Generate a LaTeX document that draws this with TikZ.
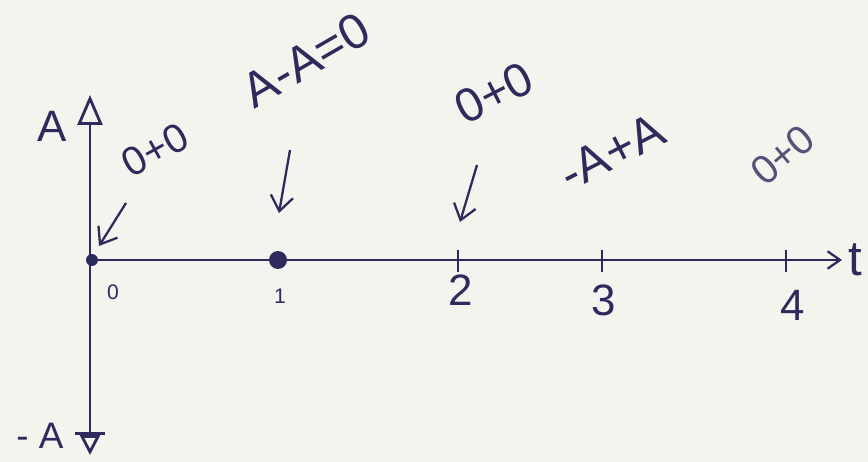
\documentclass[tikz,border=0pt]{standalone}
\usepackage{fontspec}
\setmainfont{Liberation Sans}
\usetikzlibrary{arrows.meta,positioning}
\definecolor{ink}{HTML}{2D2A5C}
\definecolor{paper}{HTML}{F4F4EF}
\tikzset{
  axis/.style={ink,line width=1.6pt},
  tickmark/.style={ink,line width=1.4pt},
  dot/.style={circle,fill=ink,inner sep=0pt,minimum size=2.4mm},
  bigdot/.style={circle,fill=ink,inner sep=0pt,minimum size=3.6mm},
  pointer/.style={-{Straight Barb[length=3mm,width=4.5mm]},ink,line width=1.3pt},
  note/.style={ink,font=\fontsize{26}{28}\selectfont,inner sep=0pt},
  ticklabel/.style={ink,font=\fontsize{25}{27}\selectfont,inner sep=1pt},
  smalllabel/.style={ink,font=\fontsize{12}{14}\selectfont,inner sep=1pt},
}
\begin{document}
\begin{tikzpicture}[x=0.02cm,y=-0.02cm]
  \fill[paper] (0,0) rectangle (868,462);
  \useasboundingbox (0,0) rectangle (868,462);
  % axes
  \coordinate (top) at (90,95);
  \coordinate (bot) at (90,455);
  \coordinate (tend) at (842,260);
  \draw[axis,-{Triangle[open,length=6mm,width=5mm]}] (90,260) -- (top);
  \draw[axis,-{Bar[width=6mm]Triangle[open,length=4mm,width=4mm,sep=0pt]}] (90,260) -- (bot);
  \draw[axis,line width=1.3pt,-{Straight Barb[length=2.5mm,width=3.5mm]}] (90,260) -- (tend);
  \node[ink,font=\fontsize{28}{30}\selectfont,anchor=west] (t) at (tend) {t};
  \node[ticklabel] (Aup) at (52,126) {A};
  \node[ticklabel,font=\fontsize{21}{23}\selectfont] (Adown) at (40,436) {- A};
  % points on the t axis
  \node[dot] (p0) at (92,260) {};
  \node[bigdot] (p1) at (278,260) {};
  \foreach \x/\n in {458/2,602/3,786/4}{
    \draw[tickmark] (\x,250) -- (\x,272);
    \coordinate (p\n) at (\x,260);
  }
  \node[smalllabel] (l0) at (113,292) {0};
  \node[smalllabel] (l1) at (280,296) {1};
  \node[ticklabel] (l2) at (461,290) {2};
  \node[ticklabel] (l3) at (604,300) {3};
  \node[ticklabel] (l4) at (793,305) {4};
  % what the sum is at each point
  \node[note,rotate=29,font=\fontsize{23}{25}\selectfont] (s0) at (155,150) {0+0};
  \node[note,rotate=30,font=\fontsize{28}{30}\selectfont] (s1) at (306,60) {A-A=0};
  \node[note,rotate=27,font=\fontsize{27}{29}\selectfont] (s2) at (494,93) {0+0};
  \node[note,rotate=27,font=\fontsize{28}{30}\selectfont] (s3) at (612,152) {-A+A};
  \node[note,rotate=40,font=\fontsize{23}{25}\selectfont,opacity=.8] (s4) at (783,155) {0+0};
  \coordinate (a0) at (126,203);
  \coordinate (b0) at (99,246);
  \coordinate (a1) at (290,150);
  \coordinate (b1) at (279,213);
  \coordinate (a2) at (477,165);
  \coordinate (b2) at (460,222);
  \draw[pointer] (a0) -- (b0);
  \draw[pointer] (a1) -- (b1);
  \draw[pointer] (a2) -- (b2);
\end{tikzpicture}
\end{document}
